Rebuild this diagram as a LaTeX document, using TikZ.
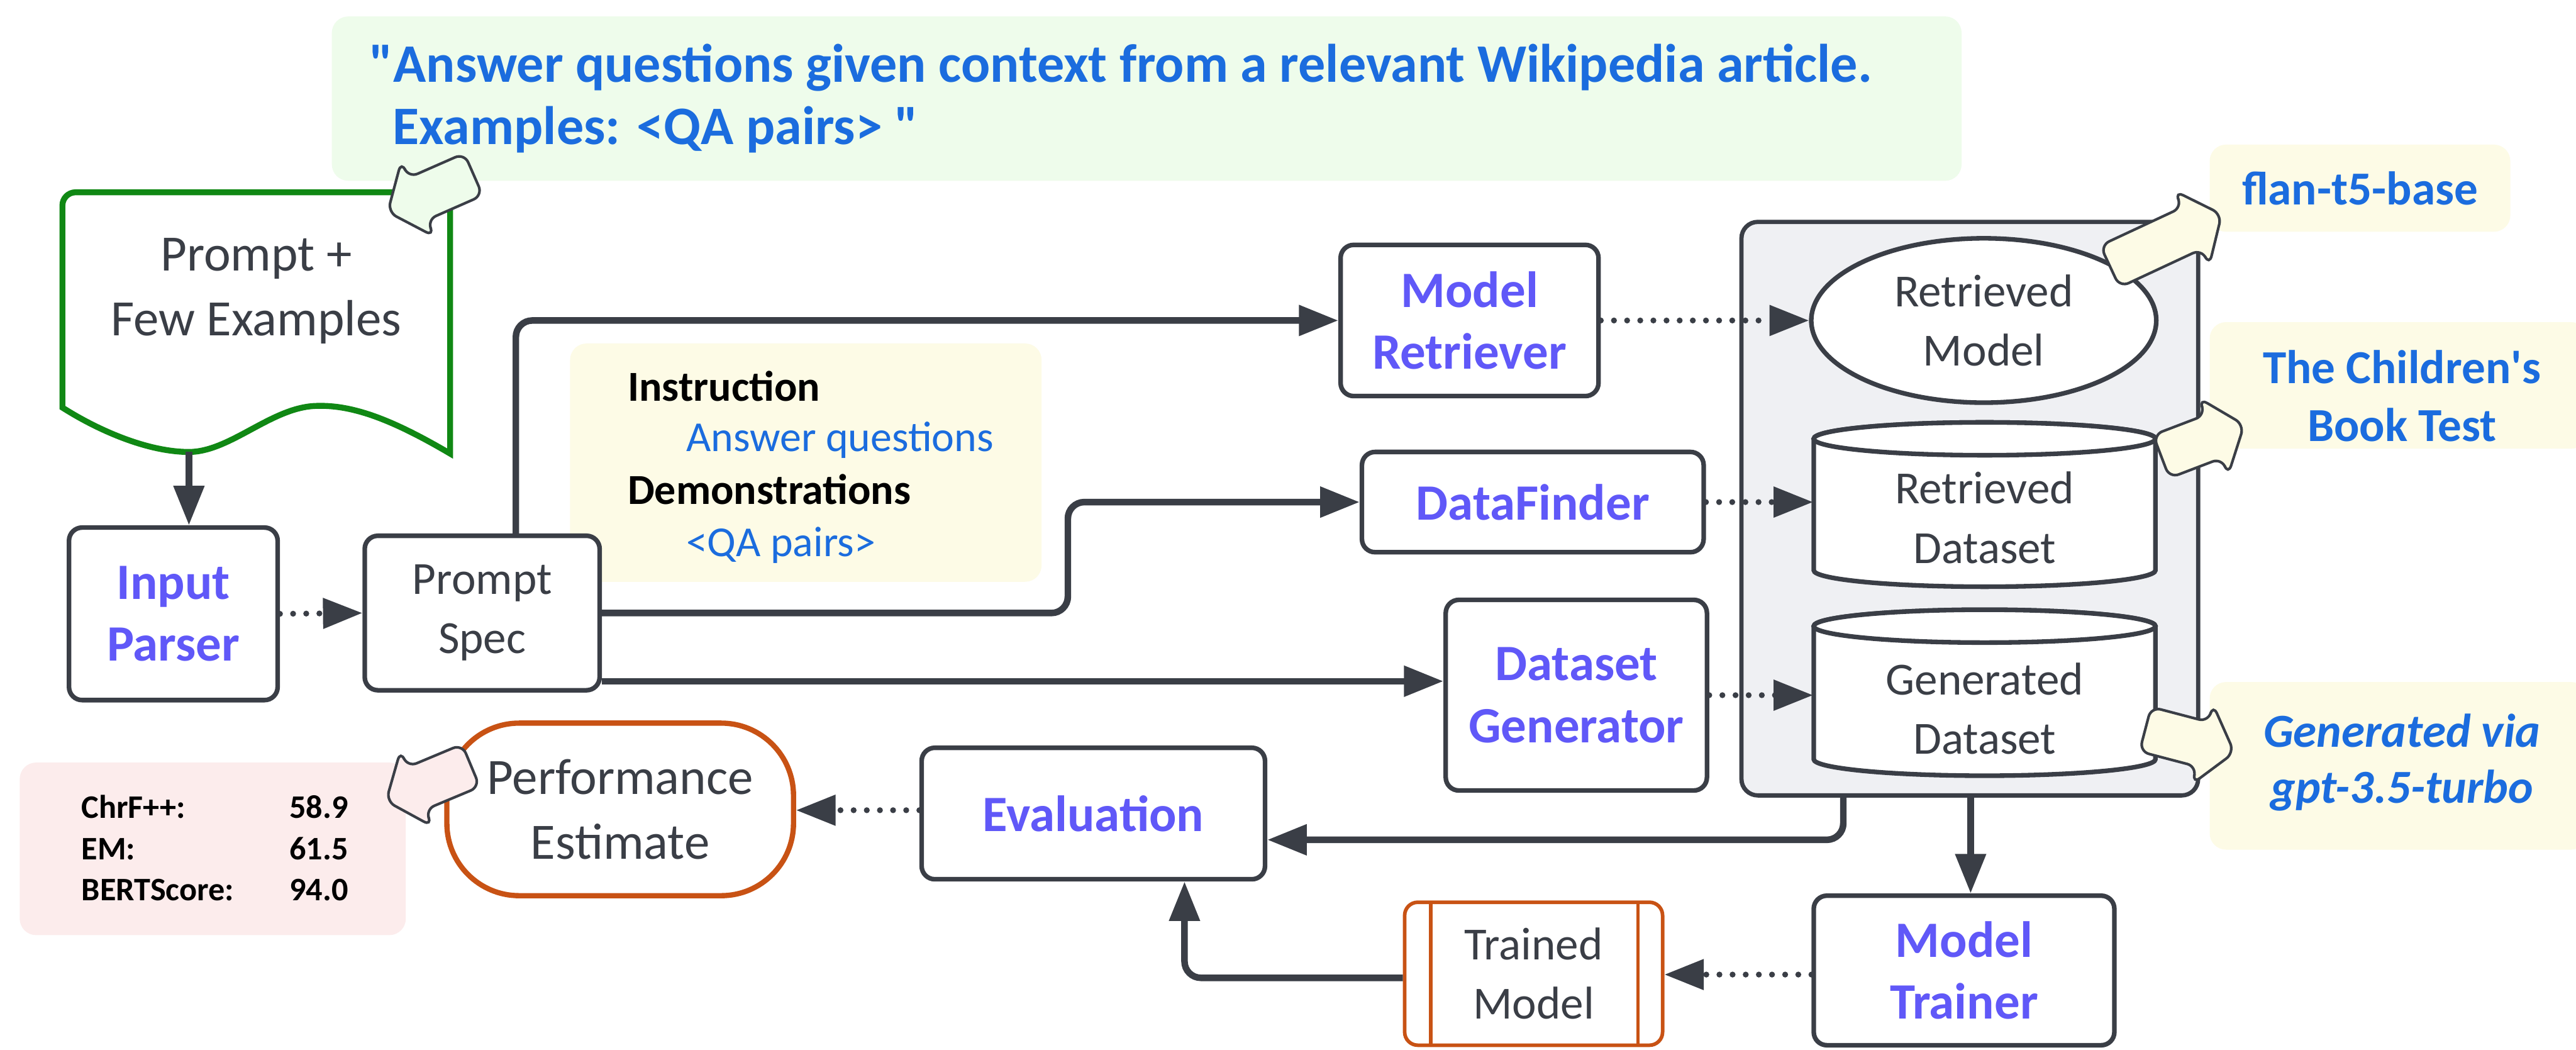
\documentclass[tikz,border=0pt]{standalone}
\usepackage{fontspec}
\setmainfont{Carlito}
% same face without the TeX character mapping, so quote marks stay straight
\newfontfamily\rawquotes{Carlito}
\usetikzlibrary{arrows.meta,shapes.geometric}

\definecolor{inkgray}{RGB}{58,62,70}
\definecolor{stagepurple}{RGB}{96,88,248}
\definecolor{noteblue}{RGB}{27,108,222}
\definecolor{docgreen}{RGB}{16,136,20}
\definecolor{outorange}{RGB}{200,82,20}
\definecolor{mintfill}{RGB}{238,252,235}
\definecolor{creamfill}{RGB}{253,251,230}
\definecolor{rosefill}{RGB}{252,236,236}
\definecolor{panelfill}{RGB}{239,240,243}

% straight ASCII quote marks
\newcommand\dq{{\rawquotes\symbol{"22}}}
\newcommand\sq{{\rawquotes\symbol{"27}}}

\begin{document}
\begin{tikzpicture}[x=0.5pt,y=-0.5pt,
  bigtext/.style={font=\fontsize{15.5}{19.8}\selectfont},
  midtext/.style={font=\fontsize{14}{18}\selectfont},
  stage/.style={draw=inkgray, line width=1.4pt, rounded corners=4pt, fill=white,
    align=center, inner sep=0pt, text=stagepurple,
    font=\fontsize{15.5}{18.8}\selectfont\bfseries},
  artefact/.style={draw=inkgray, line width=1.4pt, rounded corners=4pt, fill=white,
    align=center, inner sep=0pt, text=inkgray, midtext},
  note/.style={draw=none, rounded corners=5pt, inner sep=0pt},
  notetext/.style={text=noteblue, font=\fontsize{14.4}{17.6}\selectfont\bfseries, align=center},
  bannertext/.style={text=noteblue, font=\fontsize{16.5}{19}\selectfont\bfseries},
  metric/.style={font=\fontsize{10}{12}\selectfont\bfseries, text=black},
  flow/.style={draw=inkgray, line width=2pt, rounded corners=5pt,
    -{Triangle[length=12pt,width=9pt]}},
  dotflow/.style={draw=inkgray, line width=1.8pt, line cap=round,
    dash pattern=on 0pt off 4pt, -{Triangle[length=12pt,width=9pt]}},
  cyl/.style={draw=inkgray, line width=1.4pt, fill=white},
  pointer/.style={draw=inkgray, line width=0.8pt, rounded corners=3pt},
  pics/blockarrow/.style={code={
    \path[pic actions] (0pt,0pt) -- (-10pt,12.5pt) -- (-10pt,7pt) -- (-#1pt,7pt)
      -- (-#1pt,-7pt) -- (-10pt,-7pt) -- (-10pt,-12.5pt) -- cycle;}}
]
\useasboundingbox[fill=white] (0,0) rectangle (1568,638.6);

% ---- instruction banner ----
\node[note, fill=mintfill, minimum width=496pt, minimum height=50pt] (banner) at (698,60) {};
\node[anchor=base west, bannertext] (bannerA) at (218,50)
  {\dq Answer questions given context from a relevant Wikipedia article.};
\node[anchor=base west, bannertext] (bannerB) at (232,88) {Examples: <QA pairs> \dq};

% ---- prompt document ----
\draw[docgreen, line width=1.8pt, fill=white]
  (38,248) -- (38,125) arc[start angle=180, end angle=90, radius=4pt] -- (274,117)
  -- (274,276) .. controls (240,256) and (215,246) .. (192,247)
  .. controls (165,248) and (140,275) .. (115,275)
  .. controls (90,275) and (60,262) .. (38,248) -- cycle;
\node[bigtext, text=inkgray, align=center] (doc) at (156,177) {Prompt +\\Few Examples};
\coordinate (docfoot) at (115,275);

% ---- spec note ----
\node[note, fill=creamfill, minimum width=143.5pt, minimum height=72.5pt] (specnote) at (490.5,281.5) {};
\node[anchor=base west, font=\fontsize{13}{15}\selectfont\bfseries] (instrA) at (375,244) {Instruction};
\node[anchor=base west, font=\fontsize{13}{15}\selectfont, text=noteblue] (instrB) at (410.6,274.6) {Answer questions};
\node[anchor=base west, font=\fontsize{13}{15}\selectfont\bfseries] (instrC) at (375,307) {Demonstrations};
\node[anchor=base west, font=\fontsize{13}{15}\selectfont, text=noteblue] (instrD) at (410.6,338.5) {<QA pairs>};

% ---- pipeline stages ----
\node[stage, minimum width=63.5pt, minimum height=52.5pt] (parser) at (105.5,373.5) {Input\\Parser};
\node[artefact, minimum width=71.5pt, minimum height=47pt] (spec) at (293.5,373) {Prompt\\Spec};
\node[stage, minimum width=78.5pt, minimum height=46pt] (retriever) at (894.5,195) {Model\\Retriever};
\node[stage, minimum width=104pt, minimum height=30.5pt] (finder) at (933,305.5) {DataFinder};
\node[stage, minimum width=79.5pt, minimum height=58pt] (generator) at (959.5,423) {Dataset\\Generator};
\node[stage, minimum width=104.5pt, minimum height=40pt] (evaluation) at (665.5,495) {Evaluation};
\node[stage, minimum width=91.5pt, minimum height=45.5pt] (trainer) at (1195.5,590.5) {Model\\Trainer};

% ---- trained model (process box) ----
\node[artefact, draw=outorange, line width=1.1pt, minimum width=78.5pt, minimum height=43.5pt]
  (trained) at (933.5,592.5) {Trained\\Model};
\draw[outorange, line width=1.1pt] (871,549) -- (871,636) (997,549) -- (997,636);

% ---- performance estimate ----
\node[artefact, draw=outorange, line width=1.6pt, rounded corners=22pt, bigtext,
  minimum width=105.5pt, minimum height=52.5pt] (estimate) at (377.5,492.5) {Performance\\Estimate};

% ---- metrics ----
\node[note, fill=rosefill, minimum width=117.5pt, minimum height=52.5pt] (scores) at (129.5,516.5) {};
\node[metric, anchor=base west] (m1) at (42.6,498) {ChrF++:};
\node[metric, anchor=base east] (v1) at (219,498) {58.9};
\node[metric, anchor=base west] (m2) at (42.6,523) {EM:};
\node[metric, anchor=base east] (v2) at (219,523) {61.5};
\node[metric, anchor=base west] (m3) at (42.6,548) {BERTScore:};
\node[metric, anchor=base east] (v3) at (219,548) {94.0};

% ---- artefact store ----
\node[draw=inkgray, line width=1.3pt, fill=panelfill, rounded corners=5pt,
  minimum width=139pt, minimum height=174.5pt] (store) at (1199,309.5) {};
\node[draw=inkgray, line width=1.4pt, fill=white, ellipse, inner sep=0pt, align=center,
  text=inkgray, midtext, minimum width=105pt, minimum height=50pt] (rmodel) at (1207.5,195) {Retrieved\\Model};

\draw[cyl] (1104,267) -- (1104,347) arc[start angle=180, end angle=360, x radius=52pt, y radius=5pt]
  -- (1312,267) arc[start angle=0, end angle=180, x radius=52pt, y radius=5pt] -- cycle;
\draw[cyl] (1208,267) ellipse[x radius=52pt, y radius=5pt];
\node[midtext, text=inkgray, align=center, minimum width=104pt, inner sep=0pt] (rdata) at (1208,315) {Retrieved\\Dataset};

\draw[cyl] (1104,381) -- (1104,462) arc[start angle=180, end angle=360, x radius=52pt, y radius=5pt]
  -- (1312,381) arc[start angle=0, end angle=180, x radius=52pt, y radius=5pt] -- cycle;
\draw[cyl] (1208,381) ellipse[x radius=52pt, y radius=5pt];
\node[midtext, text=inkgray, align=center, minimum width=104pt, inner sep=0pt] (gdata) at (1208,431) {Generated\\Dataset};

% ---- side notes ----
\node[note, fill=creamfill, minimum width=91.5pt, minimum height=26.5pt] (flan) at (1436.5,114.5) {};
\node[notetext] (flantxt) at (1436.5,114.5) {flan-t5-base};
\node[note, fill=creamfill, minimum width=115pt, minimum height=38.5pt] (cbt) at (1460,234.5) {};
\node[notetext] (cbttxt) at (1462,241) {The Children\sq s\\Book Test};
\node[note, fill=creamfill, minimum width=115pt, minimum height=51pt] (gpt) at (1460,466) {};
\node[notetext, font=\fontsize{14.4}{17}\selectfont\bfseries\itshape] (gpttxt) at (1462,464) {Generated via\\gpt-3.5-turbo};

% ---- connectors ----
\draw[flow] (docfoot) -- (docfoot |- parser.north);
\draw[dotflow] (parser.east) -- (spec.west);
\draw[flow] (spec.north -| 314,0) |- (retriever.west);
\draw[flow] (spec.east) -| (650,340) |- (finder.west);
\draw[flow] (spec.east |- 0,414.5) -- (generator.west |- 0,414.5);
\draw[dotflow] (retriever.east) -- (rmodel.west);
\draw[dotflow] (finder.east) -- (finder.east -| rdata.west);
\draw[dotflow] (generator.east) -- (generator.east -| gdata.west);
\draw[flow] (store.south -| 1122,0) |- (evaluation.east |- 0,511);
\draw[flow] (store.south -| 1199.5,0) -- (trainer.north -| 1199.5,0);
\draw[dotflow] (trainer.west |- 0,593) -- (trained.east |- 0,593);
\draw[flow] (trained.west |- 0,595) -| (evaluation.south -| 721,0);
\draw[dotflow] (evaluation.west |- 0,493) -- (estimate.east |- 0,493);

% ---- callout pointers ----
\pic[pointer, fill=mintfill, rotate=203.7] at (236,129) {blockarrow=28.5};
\pic[pointer, fill=rosefill, rotate=202.7] at (235,487.4) {blockarrow=28};
\pic[pointer, fill=creamfill, rotate=25] at (1352.3,130.4) {blockarrow=37.5};
\pic[pointer, fill=creamfill, rotate=20.9] at (1366,258.5) {blockarrow=27};
\pic[pointer, fill=creamfill, rotate=-14.7] at (1360,457.9) {blockarrow=28};
\end{tikzpicture}
\end{document}
